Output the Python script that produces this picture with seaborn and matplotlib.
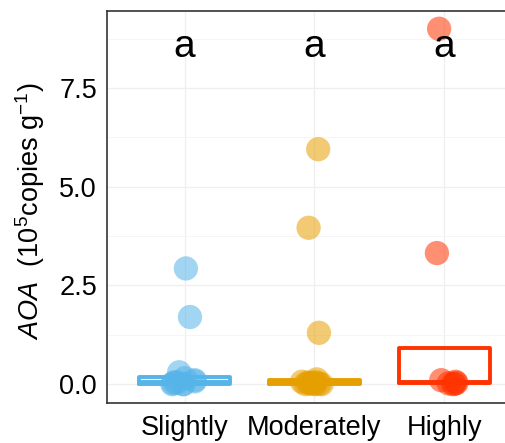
import numpy as np
import pandas as pd
import matplotlib
matplotlib.use("Agg")
import matplotlib.pyplot as plt
from matplotlib.ticker import MultipleLocator
import seaborn as sns

# AOA abundance (10^5 copies per g) by salinization level
levels = ["Slightly", "Moderately", "Highly"]
slightly = [2.93, 1.70, 0.30, 0.15, 0.10, 0.07, 0.05, 0.04, 0.02, 0.0, 0.0, 0.0]
moderately = [5.95, 3.96, 1.30, 0.12, 0.06, 0.05, 0.04, 0.03, 0.02, 0.01, 0.01, 0.0, 0.0, 0.0]
highly = [9.0, 3.32, 0.10, 0.06, 0.03, 0.02, 0.01, 0.0]
letters = ["a", "a", "a"]
letter_y = 8.55
colors = ["#56B4E9", "#E69F00", "#FF3300"]

df = pd.DataFrame({
    "level": ["Slightly"] * len(slightly) + ["Moderately"] * len(moderately) + ["Highly"] * len(highly),
    "aoa": slightly + moderately + highly,
})
palette = dict(zip(levels, colors))

sns.set_style("white")
plt.rcParams["font.family"] = ["Liberation Sans", "DejaVu Sans"]
plt.rcParams["mathtext.fontset"] = "custom"
plt.rcParams["mathtext.rm"] = "Liberation Sans"
plt.rcParams["mathtext.it"] = "Liberation Sans:italic"

W, H = 506, 443
fig = plt.figure(figsize=(W / 100, H / 100), dpi=100)
left, right, top, bottom = 106.7, 522.0, 11.0, 402.7
ax = fig.add_axes([left / W, (H - bottom) / H, (right - left) / W, (bottom - top) / H])

sns.boxplot(data=df, x="level", y="aoa", hue="level", order=levels, hue_order=levels,
            palette=palette, fill=False, width=0.7, linewidth=2.8, showfliers=False,
            showcaps=False, whis=1.5, legend=False, ax=ax, zorder=2)

# jittered raw observations on top of the boxes
np.random.seed(3)
sns.stripplot(data=df, x="level", y="aoa", hue="level", order=levels, hue_order=levels,
              palette=palette, jitter=0.1, size=17.5, alpha=0.55, linewidth=0,
              legend=False, ax=ax, zorder=3)

for i, lab in enumerate(letters):
    ax.text(i, letter_y, lab, ha="center", va="center", fontsize=28, color="black", zorder=4)

ax.set_xlim(-0.6, 2.6)
ax.set_ylim(-0.47, 9.45)
ax.yaxis.set_major_locator(MultipleLocator(2.5))
ax.yaxis.set_minor_locator(MultipleLocator(1.25))
ax.yaxis.set_major_formatter(matplotlib.ticker.FormatStrFormatter("%.1f"))

ax.grid(True, which="major", color="#EFEFEF", linewidth=0.9, zorder=0)
ax.grid(True, which="minor", axis="y", color="#F5F5F5", linewidth=0.7, zorder=0)
ax.set_axisbelow(True)

for side in ["left", "bottom", "top"]:
    ax.spines[side].set_color("#333333")
    ax.spines[side].set_linewidth(1.2)
ax.spines["right"].set_visible(False)

ax.tick_params(axis="both", which="major", length=4.5, width=1.1, color="#333333",
               labelsize=19.5, labelcolor="black", pad=2.5)
ax.tick_params(axis="y", which="minor", length=0)
ax.tick_params(axis="x", pad=4)

ax.set_xlabel("")
ax.set_ylabel(r"$\mathit{AOA}$  (10$^{5}$copies g$^{-1}$)", fontsize=19.5, color="black")
ax.yaxis.set_label_coords((47 - left) / (right - left), 0.49)

fig.savefig("out.png", dpi=100)
